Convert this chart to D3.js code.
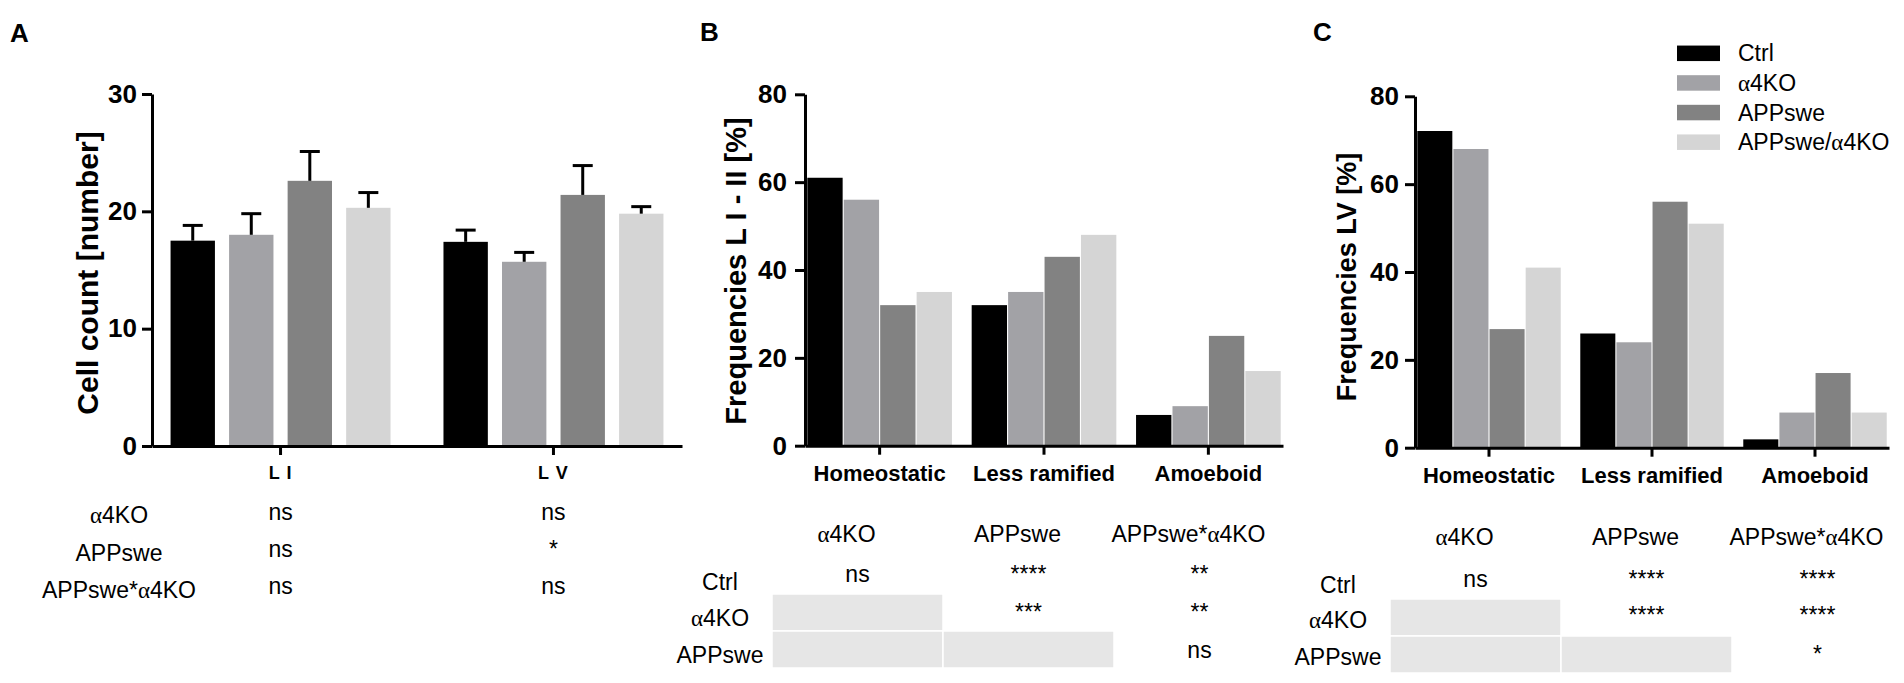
<!DOCTYPE html>
<html>
<head>
<meta charset="utf-8">
<script src="https://cdn.jsdelivr.net/npm/d3@7"></script>
<style>
	body { margin: 0; background: #fff; }
	svg { display: block; font-family: 'Liberation Sans', Arial, sans-serif; }
</style>
</head>
<body>
<svg id="fig" width="1904" height="683"></svg>
<script>
// genotype groups, same order in every panel
const groups = ['Ctrl', 'α4KO', 'APPswe', 'APPswe/α4KO'];
const groupColors = ['#000000', '#a2a2a6', '#828282', '#d5d5d5'];

// A: cell counts per layer (mean, sem), order follows groups
const layers = ['L I', 'L V'];
const countLI = [17.5, 18.0, 22.6, 20.3];
const countLV = [17.4, 15.7, 21.4, 19.8];
const semLI = [1.3, 1.8, 2.5, 1.3];
const semLV = [1.0, 0.8, 2.5, 0.6];
const ticksA = [0, 10, 20, 30];

// B, C: morphology frequencies, one row per group
const morphologies = ['Homeostatic', 'Less ramified', 'Amoeboid'];
const freqLI_II = [
	[61, 32, 7],
	[56, 35, 9],
	[32, 43, 25],
	[35, 48, 17],
];
const freqLV = [
	[72.1, 26, 1.9],
	[68, 24, 8],
	[27, 56, 17],
	[41, 51, 8],
];
const ticksFreq = [0, 20, 40, 60, 80];

// statistics tables
const testsA = ['α4KO', 'APPswe', 'APPswe*α4KO'];
const statsA_LI = ['ns', 'ns', 'ns'];
const statsA_LV = ['ns', '*', 'ns'];
const compCols = ['α4KO', 'APPswe', 'APPswe*α4KO'];
const compRows = ['Ctrl', 'α4KO', 'APPswe'];
const statsB = [
	['ns', '****', '**'],
	['', '***', '**'],
	['', '', 'ns'],
];
const statsC = [
	['ns', '****', '****'],
	['', '****', '****'],
	['', '', '*'],
];

const SERIF = "'Liberation Serif', 'DejaVu Serif', serif";
const TABLE_FONT = 23;

// alpha is set in a serif face, as in the figure
function alphaText (sel) {
	sel.each(function (d) {
		const t = d3.select(this);
		const str = typeof d === 'string' ? d : d.label;
		str.split('α').forEach((p, i) => {
			if (i > 0) t.append('tspan').attr('font-family', SERIF).text('α');
			if (p) t.append('tspan').text(p);
		});
	});
}

function styleAxis (g, fontSize) {
	g.select('.domain').attr('stroke', '#000').attr('stroke-width', 3);
	g.selectAll('.tick line').attr('stroke', '#000').attr('stroke-width', 3);
	g.selectAll('.tick text')
		.attr('fill', '#000')
		.attr('font-size', fontSize)
		.attr('font-weight', 'bold')
		.attr('font-family', "'Liberation Sans', Arial, sans-serif");
}

function yTitle (svg, txt, x, y, size) {
	svg.append('text')
		.attr('transform', `translate(${x},${y})rotate(-90)`)
		.attr('text-anchor', 'middle')
		.attr('dominant-baseline', 'central')
		.attr('font-size', size)
		.attr('font-weight', 'bold')
		.text(txt);
}

function panelLetter (svg, txt, x, y) {
	svg.append('text')
		.attr('x', x).attr('y', y)
		.attr('font-size', 26)
		.attr('font-weight', 'bold')
		.text(txt);
}

function drawFreqPanel (svg, cfg) {
	const y = d3.scaleLinear().domain([0, 80]).range([cfg.bottom, cfg.top]);
	const x = d3.scaleBand().domain(morphologies).range([cfg.left, cfg.right])
		.paddingInner(0.12).paddingOuter(0.014);
	const xIn = d3.scaleBand().domain(groups).range([0, x.bandwidth()]).paddingInner(0.03);

	const rows = [];
	cfg.values.forEach((vals, gi) => vals.forEach((v, mi) => {
		rows.push({ group: groups[gi], color: groupColors[gi], morph: morphologies[mi], value: v });
	}));

	svg.append('g').attr('class', 'bars')
		.selectAll('rect').data(rows).join('rect')
		.attr('x', d => x(d.morph) + xIn(d.group))
		.attr('width', xIn.bandwidth())
		.attr('y', d => y(d.value))
		.attr('height', d => y(0) - y(d.value))
		.attr('fill', d => d.color);

	const gy = svg.append('g')
		.attr('transform', `translate(${cfg.left},0)`)
		.call(d3.axisLeft(y).tickValues(ticksFreq).tickSize(10).tickSizeOuter(0).tickPadding(cfg.tickPad));
	styleAxis(gy, 26);

	const gx = svg.append('g')
		.attr('transform', `translate(0,${cfg.bottom})`)
		.call(d3.axisBottom(x).tickSize(9).tickSizeOuter(0));
	styleAxis(gx, 22);
	gx.selectAll('.tick text').attr('y', 35).attr('dy', 0);

	yTitle(svg, cfg.title, cfg.titleX, cfg.titleY, cfg.titleSize);
}

function drawStatTable (svg, stats, cfg) {
	const col = d3.scaleBand().domain(compCols).range([cfg.left, cfg.left + 3 * 171]);
	const row = d3.scaleBand().domain(compRows).range([cfg.top, cfg.top + 3 * 37]);
	const cells = [];
	stats.forEach((r, ri) => r.forEach((v, ci) => cells.push({ r: compRows[ri], c: compCols[ci], v, ri, ci })));

	svg.append('g').selectAll('rect')
		.data(cells.filter(d => d.ci < d.ri)).join('rect')
		.attr('x', d => col(d.c)).attr('y', d => row(d.r))
		.attr('width', col.bandwidth()).attr('height', row.bandwidth())
		.attr('fill', '#e6e6e6').attr('stroke', '#fff').attr('stroke-width', 1.5);

	svg.append('g').selectAll('text')
		.data(compCols).join('text')
		.attr('x', d => col(d) + col.bandwidth() / 2 - 11)
		.attr('y', cfg.headY)
		.attr('text-anchor', 'middle').attr('font-size', TABLE_FONT)
		.call(alphaText);

	svg.append('g').selectAll('text')
		.data(compRows).join('text')
		.attr('x', cfg.labelX)
		.attr('y', (d, i) => cfg.labelY[i])
		.attr('text-anchor', 'middle').attr('font-size', TABLE_FONT)
		.call(alphaText);

	svg.append('g').selectAll('text')
		.data(cells.filter(d => d.v)).join('text')
		.attr('x', d => col(d.c) + col.bandwidth() / 2)
		.attr('y', d => cfg.valueY[d.ri])
		.attr('text-anchor', 'middle').attr('font-size', TABLE_FONT)
		.text(d => d.v);
}

function onLoad () {
	const svg = d3.select('#fig');

	// ---- PANEL A
	panelLetter(svg, 'A', 10, 42);
	const yA = d3.scaleLinear().domain([0, 30]).range([446, 94]);
	const xA = d3.scaleBand().domain(layers).range([152, 682]).paddingInner(0.194).paddingOuter(0.068);
	const xAin = d3.scaleBand().domain(groups).range([0, xA.bandwidth()]).paddingInner(0.242);
	const means = [countLI, countLV];
	const sems = [semLI, semLV];
	const barsA = [];
	layers.forEach((l, li) => groups.forEach((g, gi) => {
		barsA.push({ layer: l, group: g, color: groupColors[gi], mean: means[li][gi], sem: sems[li][gi] });
	}));

	svg.append('g').selectAll('rect').data(barsA).join('rect')
		.attr('x', d => xA(d.layer) + xAin(d.group))
		.attr('width', xAin.bandwidth())
		.attr('y', d => yA(d.mean))
		.attr('height', d => yA(0) - yA(d.mean))
		.attr('fill', d => d.color);

	const err = svg.append('g').attr('stroke', '#000').attr('stroke-width', 3)
		.selectAll('g').data(barsA).join('g')
		.attr('transform', d => `translate(${xA(d.layer) + xAin(d.group) + xAin.bandwidth() / 2},0)`);
	err.append('line')
		.attr('y1', d => yA(d.mean)).attr('y2', d => yA(d.mean + d.sem));
	err.append('line')
		.attr('x1', -10).attr('x2', 10)
		.attr('y1', d => yA(d.mean + d.sem)).attr('y2', d => yA(d.mean + d.sem));

	const gyA = svg.append('g').attr('transform', 'translate(152,0)')
		.call(d3.axisLeft(yA).tickValues(ticksA).tickSize(10).tickSizeOuter(0).tickPadding(5));
	styleAxis(gyA, 26);
	const gxA = svg.append('g').attr('transform', 'translate(0,446)')
		.call(d3.axisBottom(xA).tickSize(9).tickSizeOuter(0));
	styleAxis(gxA, 18);
	gxA.selectAll('.tick text').attr('y', 33).attr('dy', 0).attr('letter-spacing', 1);
	yTitle(svg, 'Cell count [number]', 87, 273, 30);

	// table A
	const rowA = d3.scalePoint().domain(testsA).range([523, 598]);
	const rowAv = d3.scalePoint().domain(testsA).range([520, 594]);
	svg.append('g').selectAll('text').data(testsA).join('text')
		.attr('x', 119).attr('y', d => rowA(d))
		.attr('text-anchor', 'middle').attr('font-size', TABLE_FONT)
		.call(alphaText);
	[statsA_LI, statsA_LV].forEach((vals, li) => {
		svg.append('g').selectAll('text').data(vals).join('text')
			.attr('x', xA(layers[li]) + xA.bandwidth() / 2)
			.attr('y', (d, i) => rowAv(testsA[i]))
			.attr('text-anchor', 'middle').attr('font-size', TABLE_FONT)
			.text(d => d);
	});

	// ---- PANEL B
	panelLetter(svg, 'B', 700, 41);
	drawFreqPanel(svg, {
		values: freqLI_II, left: 805, right: 1283, top: 94.3, bottom: 445.7,
		tickPad: 8, title: 'Frequencies L I - II [%]', titleX: 736, titleY: 271, titleSize: 29,
	});
	drawStatTable(svg, statsB, {
		left: 772, top: 557, headY: 542, labelX: 720,
		labelY: [590, 626, 663], valueY: [582, 620, 658],
	});

	// ---- PANEL C
	panelLetter(svg, 'C', 1313, 41);
	drawFreqPanel(svg, {
		values: freqLV, left: 1415, right: 1889, top: 96.3, bottom: 447.7,
		tickPad: 6, title: 'Frequencies LV [%]', titleX: 1347, titleY: 277, titleSize: 27,
	});
	drawStatTable(svg, statsC, {
		left: 1390, top: 562, headY: 545, labelX: 1338,
		labelY: [593, 628, 665], valueY: [587, 623, 662],
	});

	// legend
	const leg = d3.scaleBand().domain(groups).range([38.5, 157]);
	const lg = svg.append('g').selectAll('g').data(groups).join('g')
		.attr('transform', d => `translate(1677,${leg(d)})`);
	lg.append('rect')
		.attr('width', 43).attr('height', 15.5)
		.attr('y', (leg.bandwidth() - 15.5) / 2)
		.attr('fill', (d, i) => groupColors[i]);
	lg.append('text')
		.attr('x', 61).attr('y', leg.bandwidth() / 2 + 8)
		.attr('font-size', 23)
		.call(alphaText);
}

if (document.readyState === 'loading') {
	document.addEventListener('DOMContentLoaded', onLoad);
} else {
	onLoad();
}
</script>
</body>
</html>
